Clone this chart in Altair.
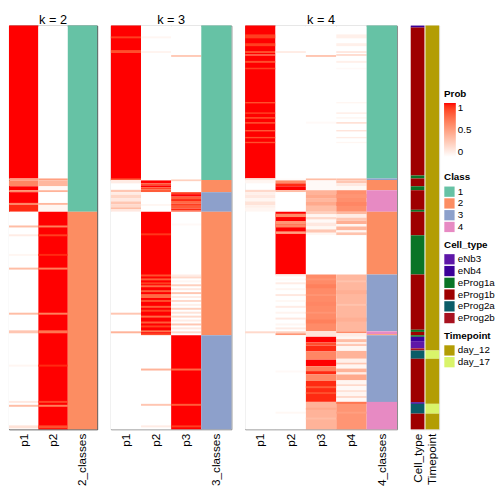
import altair as alt
import pandas as pd

FONT = "Liberation Sans"
N_ROWS = 206

# ---------------- data: (row_start, row_end, value) runs ----------------
k2_cols = ["p1", "p2", "2_classes"]
k3_cols = ["p1", "p2", "p3", "3_classes"]
k4_cols = ["p1", "p2", "p3", "p4", "4_classes"]

k2_p1 = [(0, 78, 1.0), (78, 79, 0.5), (79, 82, 0.62), (82, 84, 1.0), (84, 85, 0.6), (85, 90.5, 1.0),
         (90.5, 91.5, 0.62), (91.5, 95, 0.95), (95, 206, 0.0),
         (102, 103, 0.35), (106.5, 107.5, 0.1), (116.5, 117.5, 0.05), (123.5, 124.5, 0.35),
         (146.5, 147.5, 0.35), (155.5, 157, 0.3), (173, 174, 0.05), (191.5, 192.5, 0.12),
         (193.5, 194.5, 0.35), (204, 205.5, 0.15)]
k2_p2 = [(0, 78, 0.0), (78, 79, 0.5), (79, 82, 0.38), (82, 84, 0.03), (84, 85, 0.4), (85, 90.5, 0.0),
         (90.5, 91.5, 0.38), (91.5, 95, 0.05), (95, 206, 1.0),
         (102, 103, 0.65), (106.5, 107.5, 0.9), (116.5, 117.5, 0.95), (123.5, 124.5, 0.65),
         (146.5, 147.5, 0.65), (155.5, 157, 0.7), (173, 174, 0.95), (191.5, 192.5, 0.88),
         (193.5, 194.5, 0.65), (204, 205.5, 0.85)]
k2_cls = [(0, 95, "1"), (95, 206, "2")]

k3_p1 = [(0, 79, 1.0), (5.5, 6.5, 0.9), (12.5, 14, 0.85), (78, 79, 0.8),
         (79, 95, 0.0), (78.8, 80.5, 0.1), (83.8, 85, 0.3), (85, 86.3, 0.1), (86.3, 88, 0.22),
         (88, 89.7, 0.12), (89.7, 91.3, 0.3), (91.3, 92.7, 0.2), (92.7, 93.8, 0.35), (93.8, 95, 0.12),
         (95, 206, 0.0), (146.5, 147.5, 0.3), (156, 157, 0.4)]
k3_p2 = [(0, 79, 0.0), (5.5, 6.5, 0.05), (13, 14, 0.06),
         (79, 80.5, 1.0), (80.5, 81.5, 0.85), (81.5, 82.5, 1.0), (82.5, 83.5, 0.88), (83.5, 85, 0.8),
         (85, 95, 0.0), (91, 92, 0.05),
         (95, 158, 1.0), (106, 107, 0.92), (127, 128, 0.85), (129, 130, 0.8), (131, 132, 0.9),
         (132.5, 133.5, 0.75), (135, 136, 0.8), (137, 139, 0.75), (140, 141, 0.85), (143, 144, 0.8),
         (145, 146, 0.9), (148, 149, 0.75), (151, 152, 0.8), (153, 154, 0.9), (155.5, 156.5, 0.7),
         (157, 158, 0.85),
         (158, 206, 0.0), (175, 176, 0.4), (193, 194, 0.3), (204, 205, 0.1)]
k3_p3 = [(0, 79, 0.0), (15, 16, 0.28), (78.5, 79.5, 0.25), (79.5, 85, 0.0),
         (85, 86, 0.9), (86, 87.3, 1.0), (87.3, 88.5, 0.8), (88.5, 89.5, 0.95), (89.5, 90.7, 0.75),
         (90.7, 92, 0.9), (92, 93.3, 0.8), (93.3, 94.3, 0.95), (94.3, 95, 0.85),
         (95, 158, 0.0), (101, 102, 0.03), (127, 128, 0.1), (128, 129, 0.2), (130, 131, 0.05),
         (132, 133, 0.25), (134, 135, 0.12), (136, 137, 0.3), (138, 139, 0.1), (140, 141, 0.2),
         (142, 143, 0.08), (144, 145, 0.25), (146, 147, 0.15), (148, 149, 0.2), (150, 151, 0.1),
         (152, 153, 0.3), (154, 155, 0.12), (156, 157, 0.2),
         (158, 206, 1.0), (175, 176, 0.75), (193, 194, 0.8), (204, 205, 0.9)]
k3_cls = [(0, 78.8, "1"), (78.8, 85, "2"), (85, 95, "3"), (95, 158, "2"), (158, 206, "3")]

k4_p1 = [(0, 78, 1.0), (4.5, 6.5, 0.9), (9, 10.5, 0.9), (13, 14, 0.85), (14.7, 15.3, 0.55), (18, 19, 0.85),
         (21.5, 22.3, 0.9), (39, 39.7, 0.85), (44.3, 45, 0.88), (46.7, 47.5, 0.85), (49.3, 50, 0.8),
         (53.3, 54, 0.8), (56.8, 57.5, 0.85), (59.3, 60, 0.85),
         (78, 95, 0.0), (78, 79, 0.15), (79, 80.5, 0.05), (83.8, 85, 0.2), (85, 86.3, 0.08),
         (86.3, 88, 0.12), (88, 89.7, 0.05), (89.7, 91.7, 0.15), (91.7, 93, 0.08), (93, 95, 0.05),
         (95, 206, 0.0), (156, 157, 0.2)]
k4_p2 = [(0, 78, 0.0), (13, 14, 0.1),
         (78, 79, 0.02), (79, 80.5, 0.6), (80.5, 82, 0.95), (82, 84, 1.0), (84, 85, 0.35), (85, 95, 0.0),
         (95, 127, 1.0), (96, 97.7, 0.6), (99.7, 101.3, 0.55), (101.3, 103, 0.62), (105, 106.3, 0.5),
         (127, 158, 0.0), (127, 128, 0.08), (129, 130, 0.03), (131, 132, 0.1), (134, 135, 0.05),
         (137, 138, 0.12), (140, 141, 0.04), (143, 144, 0.1), (146, 147, 0.06), (149, 150, 0.12),
         (152, 153, 0.05), (154, 155, 0.1), (156, 157, 0.25), (157, 158, 0.55),
         (158, 206, 0.0), (176, 177, 0.03), (197, 198, 0.04)]
k4_p3 = [(0, 78, 0.0), (15, 16, 0.3), (49, 50, 0.03),
         (78, 79, 0.35), (79, 84, 0.03),
         (84, 86, 0.4), (86, 88, 0.45), (88, 90, 0.38), (90, 92, 0.45), (92, 95, 0.35),
         (95, 96.3, 0.25), (96.3, 97.7, 0.05), (97.7, 99, 0.2), (99, 100.5, 0.03), (100.5, 102.5, 0.12),
         (102.5, 104, 0.04), (104, 105.7, 0.3), (105.7, 107, 0.05),
         (107, 127, 0.0),
         (127, 156, 0.6), (129, 130, 0.55), (132, 134, 0.65), (137, 138, 0.55), (141, 143, 0.62),
         (146, 147, 0.55), (150, 152, 0.65),
         (156, 158.8, 0.15),
         (158.8, 161.7, 1.0), (161.7, 163.3, 0.85), (163.3, 166.3, 0.95), (166.3, 170.5, 0.62),
         (170.5, 173.8, 1.0), (173.8, 176.3, 0.65), (176.3, 178, 0.95), (178, 181.3, 0.6),
         (181.3, 192, 0.95), (184, 185, 0.8), (187, 188, 0.85),
         (192, 206, 0.4), (195, 196, 0.45), (200, 201, 0.35)]
k4_p4 = [(0, 78, 0.0), (4.5, 6.5, 0.08), (9, 10.5, 0.08), (13, 14, 0.12), (14.7, 15.3, 0.3), (18, 19, 0.08),
         (21.5, 22.3, 0.03), (39, 39.7, 0.05), (44.3, 45, 0.1), (46.7, 47.5, 0.05), (49.3, 50, 0.2),
         (53.3, 54, 0.15), (56.8, 57.5, 0.1), (59.3, 60, 0.05),
         (78, 79, 0.35), (79, 80.5, 0.3), (80.5, 82, 0.12), (82, 84, 0.04),
         (84, 95, 0.58), (86, 88, 0.55), (90, 92, 0.62),
         (95, 96.3, 0.38), (96.3, 98, 0.1), (98, 99.5, 0.3), (99.5, 101.3, 0.42), (101.3, 102.5, 0.05),
         (102.5, 104.5, 0.38), (104.5, 105.5, 0.05), (105.5, 107, 0.32),
         (107, 127, 0.0),
         (127, 156, 0.38), (130, 131, 0.32), (135, 137, 0.42), (142, 143, 0.32), (149, 151, 0.42),
         (156, 157, 0.6), (157, 158.8, 0.1),
         (158.8, 160, 0.05), (160, 161.5, 0.35), (161.5, 162.5, 0.1), (162.5, 163.5, 0.3),
         (163.5, 166, 0.05), (166, 170, 0.4), (170, 172, 0.08), (172, 173, 0.3), (173, 175, 0.05),
         (175, 177, 0.4), (177, 178, 0.1), (178, 181, 0.45), (181, 183, 0.05), (183, 184, 0.2),
         (184, 186, 0.03), (186, 187, 0.15), (187, 189, 0.05), (189, 190, 0.2), (190, 192, 0.03),
         (192, 206, 0.55), (192, 193, 0.7), (197, 198, 0.5)]
k4_cls = [(0, 78, "1"), (78, 78.8, "3"), (78.8, 84, "2"), (84, 95, "4"), (95, 127, "2"), (127, 156, "3"),
          (156, 157.5, "4"), (157.5, 158, "2"), (158, 192, "3"), (192, 206, "4")]

cell_type = [(0, 1, "eNb4"), (1, 76.5, "eProg1b"), (76.5, 78, "eProg1a"), (78, 82, "eProg1b"),
             (82, 84, "eProg1a"), (84, 94, "eProg1b"), (94, 95, "eProg1a"), (95, 107, "eProg1b"),
             (107, 127, "eProg1a"), (127, 155.2, "eProg1b"), (155.2, 156.3, "eProg1a"),
             (156.3, 158, "eProg1b"), (158, 158.8, "eProg1a"), (158.8, 161, "eNb4"), (161, 164.7, "eNb3"),
             (164.7, 165.8, "eProg2b"), (165.8, 170, "eProg2a"), (170, 192.2, "eProg1b"),
             (192.2, 193, "eNb4"), (193, 198, "eProg2a"), (198, 206, "eProg1b")]
timepoint = [(0, 165.8, "day_12"), (165.8, 170, "day_17"), (170, 193, "day_12"), (193, 198, "day_17"),
             (198, 206, "day_12")]

class_levels = ["1", "2", "3", "4"]
class_colors = ["#66C2A5", "#FC8D62", "#8DA0CB", "#E78AC3"]
cell_levels = ["eNb3", "eNb4", "eProg1a", "eProg1b", "eProg2a", "eProg2b"]
cell_colors = ["#5E17A8", "#3B0099", "#0A7426", "#9E0000", "#0B5C67", "#A8121F"]
time_levels = ["day_12", "day_17"]
time_colors = ["#B39D04", "#D9F46A"]
prob_ticks = [0, 0.5, 1]


def seg_frame(col, segs, field):
    return pd.DataFrame([{"col": col, "r0": a, "r1": b, field: v} for a, b, v in segs])


x_axis = alt.Axis(title=None, labelAngle=270, ticks=False, tickSize=0, domain=False, labelPadding=4,
                  labelFontSize=12, labelFont=FONT, labelColor="black")
y_enc = alt.Y("r0:Q", scale=alt.Scale(domain=[0, N_ROWS], reverse=True, nice=False, zero=False), axis=None)
prob_scale = alt.Scale(domain=[0, 1], range=["#FFFFFF", "#FF0000"], interpolate="lab")
class_scale = alt.Scale(domain=class_levels, range=class_colors)


def title_params(text):
    return alt.TitleParams(text=text, fontSize=13, fontWeight="normal", font=FONT, color="black",
                           offset=-1, anchor="middle")


def make_panel(title, cols, prob_lists, cls_list, width, stroke):
    prob_df = pd.concat([seg_frame(c, s, "p") for c, s in zip(cols[:-1], prob_lists)], ignore_index=True)
    cls_df = seg_frame(cols[-1], cls_list, "Class")
    x = alt.X("col:N", scale=alt.Scale(domain=cols, paddingInner=0, paddingOuter=0), axis=x_axis)
    prob = alt.Chart(prob_df).mark_rect().encode(
        x=x, y=y_enc, y2="r1:Q", color=alt.Color("p:Q", scale=prob_scale, legend=None))
    cls = alt.Chart(cls_df).mark_rect().encode(
        x=x, y=y_enc, y2="r1:Q", color=alt.Color("Class:N", scale=class_scale, legend=None))
    return alt.layer(prob, cls).resolve_scale(color="independent").properties(
        width=width, height=412, title=title_params(title),
        view=alt.ViewBackground(stroke=stroke, strokeWidth=1))


p_k2 = make_panel("k = 2", k2_cols, [k2_p1, k2_p2], k2_cls, 90, "#444444")
p_k3 = make_panel("k = 3", k3_cols, [k3_p1, k3_p2, k3_p3], k3_cls, 123, "#888888")
p_k4 = make_panel("k = 4", k4_cols, [k4_p1, k4_p2, k4_p3, k4_p4], k4_cls, 155, "#888888")

# annotation panel with all legends
ann_cols = ["Cell_type", "Timepoint"]
xa = alt.X("col:N", scale=alt.Scale(domain=ann_cols, paddingInner=0.07, paddingOuter=0), axis=x_axis)
ct_df = seg_frame("Cell_type", cell_type, "Cell_type")
tp_df = seg_frame("Timepoint", timepoint, "Timepoint")

LEGX = 34
prob_leg = alt.Chart(pd.DataFrame({"Prob": prob_ticks})).mark_rect().encode(
    x=alt.value(0), x2=alt.value(0), y=alt.value(0), y2=alt.value(0),
    color=alt.Color("Prob:Q", scale=prob_scale,
                    legend=alt.Legend(title="Prob", orient="none", legendX=LEGX, legendY=65,
                                      direction="vertical", gradientLength=55, gradientThickness=12,
                                      values=prob_ticks, format="~g")))
class_leg = alt.Chart(pd.DataFrame({"Class": class_levels})).mark_rect().encode(
    x=alt.value(0), x2=alt.value(0), y=alt.value(0), y2=alt.value(0),
    color=alt.Color("Class:N", scale=class_scale,
                    legend=alt.Legend(title="Class", orient="none", legendX=LEGX, legendY=150,
                                      direction="vertical", symbolOpacity=1)))
ct = alt.Chart(ct_df).mark_rect().encode(
    x=xa, y=y_enc, y2="r1:Q",
    color=alt.Color("Cell_type:N", scale=alt.Scale(domain=cell_levels, range=cell_colors),
                    legend=alt.Legend(title="Cell_type", orient="none", legendX=LEGX, legendY=219,
                                      direction="vertical")))
tp = alt.Chart(tp_df).mark_rect().encode(
    x=xa, y=y_enc, y2="r1:Q",
    color=alt.Color("Timepoint:N", scale=alt.Scale(domain=time_levels, range=time_colors),
                    legend=alt.Legend(title="Timepoint", orient="none", legendX=LEGX, legendY=312,
                                      direction="vertical")))
ann = alt.layer(prob_leg, class_leg, ct, tp).resolve_scale(color="independent").properties(
    width=29, height=412, title=title_params(" "))

chart = alt.hconcat(p_k2, p_k3, p_k4, ann, spacing=12).resolve_scale(color="independent").properties(
    padding={"left": 0, "top": 0, "right": 0, "bottom": 0}
).configure_view(stroke=None).configure(background="white").configure_legend(
    titleFont=FONT, titleFontSize=10, titleFontWeight="bold", titleColor="black", titlePadding=4,
    labelFont=FONT, labelFontSize=10, labelColor="black", labelOffset=3,
    symbolType="square", symbolSize=110, symbolStrokeWidth=0, rowPadding=1, padding=0,
    gradientStrokeWidth=0
)

chart.save("out.html", embed_options={"renderer": "svg", "actions": False})
